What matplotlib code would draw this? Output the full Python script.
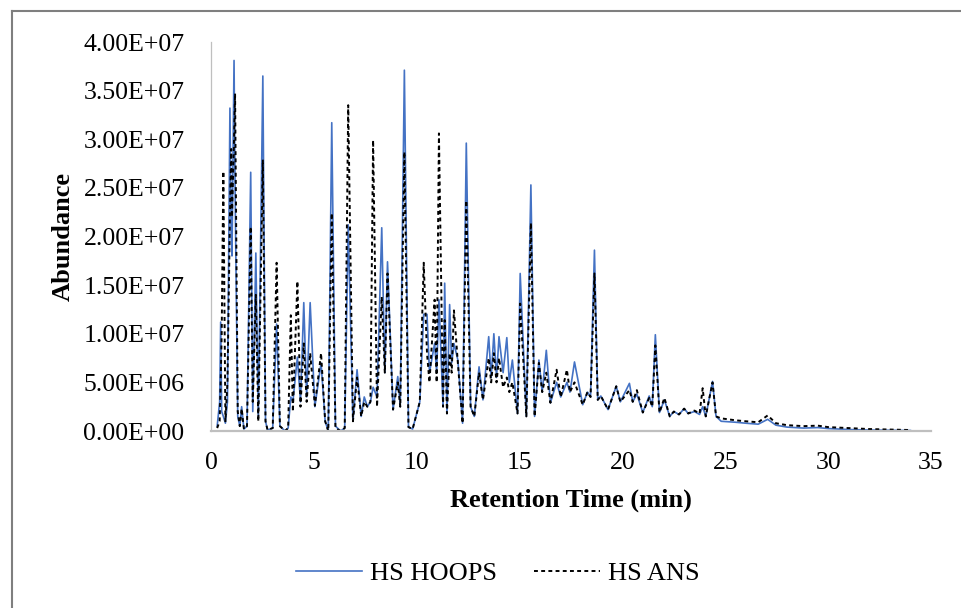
import numpy as np
import matplotlib
matplotlib.use("Agg")
import matplotlib.pyplot as plt
from matplotlib.lines import Line2D
from matplotlib.ticker import FuncFormatter


# retention time (min) and abundance in millions
rt = [
    0.30, 0.42, 0.47, 0.52, 0.60, 0.70, 0.80, 0.92, 0.98, 1.02, 1.12, 1.17,
    1.30, 1.40, 1.49, 1.60, 1.75, 1.93, 2.03, 2.18, 2.30, 2.52, 2.65, 2.75,
    3.00, 3.19, 3.35, 3.60, 3.75, 3.88, 3.98, 4.20, 4.35, 4.51, 4.65, 4.82,
    5.05, 5.35, 5.55, 5.70, 5.87, 6.05, 6.30, 6.50, 6.67, 6.90, 7.10, 7.30,
    7.45, 7.60, 7.75, 7.88, 8.07, 8.30, 8.45, 8.58, 8.85, 9.08, 9.20, 9.40,
    9.60, 9.80, 10.15, 10.34, 10.50, 10.62, 10.87, 10.97, 11.08, 11.28, 11.36, 11.47,
    11.60, 11.70, 11.81, 12.00, 12.23, 12.41, 12.62, 12.80, 13.03, 13.22, 13.50, 13.62,
    13.75, 13.88, 14.00, 14.20, 14.38, 14.50, 14.65, 14.90, 15.03, 15.33, 15.55, 15.73,
    15.94, 16.10, 16.30, 16.50, 16.80, 17.00, 17.30, 17.45, 17.67, 18.07, 18.30, 18.45,
    18.64, 18.80, 18.95, 19.30, 19.70, 19.90, 20.34, 20.50, 20.70, 20.99, 21.30, 21.45,
    21.60, 21.80, 22.04, 22.30, 22.50, 22.75, 23.00, 23.20, 23.50, 23.75, 23.90, 24.05,
    24.38, 24.55, 24.80, 25.50, 26.00, 26.60, 27.06, 27.46, 28.00, 28.80, 29.50, 30.00,
    31.00, 32.00, 33.00, 34.00,
]

hoops_m = [
    0.5, 3.0, 11.2, 2.0, 1.5, 0.8, 3.0, 33.2, 20.0, 18.0, 38.1, 25.0,
    1.5, 0.5, 2.5, 0.2, 0.5, 26.6, 2.0, 18.3, 1.5, 36.5, 1.0, 0.1,
    0.3, 11.0, 0.5, 0.0, 0.3, 3.5, 3.0, 7.6, 3.0, 13.2, 3.5, 13.2,
    2.5, 7.0, 1.0, 0.0, 31.7, 0.5, 0.0, 0.3, 21.2, 1.0, 6.3, 1.5,
    3.5, 2.5, 3.0, 4.5, 3.5, 20.9, 6.0, 17.4, 2.2, 5.6, 2.5, 37.1,
    0.4, 0.2, 3.0, 12.0, 12.0, 6.0, 9.0, 6.0, 13.5, 2.5, 15.2, 1.8,
    13.0, 7.0, 9.0, 7.3, 0.8, 29.6, 2.5, 1.5, 6.6, 3.2, 9.7, 5.5,
    10.0, 5.5, 9.7, 6.0, 9.6, 5.0, 7.3, 1.8, 16.2, 1.5, 25.3, 1.5,
    7.3, 4.0, 8.3, 2.9, 5.0, 3.5, 5.0, 4.0, 7.1, 2.7, 4.0, 3.5,
    18.6, 3.2, 3.6, 2.2, 4.6, 3.0, 4.9, 3.0, 3.8, 1.9, 3.6, 2.5,
    9.9, 1.9, 3.2, 1.5, 2.0, 1.7, 2.3, 1.8, 2.0, 1.7, 2.5, 1.5,
    5.1, 1.5, 1.0, 0.9, 0.8, 0.7, 1.2, 0.6, 0.4, 0.3, 0.35, 0.25,
    0.15, 0.1, 0.08, 0.05,
]

ans_m = [
    0.3, 1.0, 5.0, 10.0, 26.7, 1.0, 5.0, 22.0, 29.0, 22.0, 30.0, 34.7,
    2.0, 0.5, 2.3, 0.2, 0.5, 21.0, 3.0, 14.0, 1.0, 27.9, 1.0, 0.1,
    0.3, 17.3, 0.5, 0.0, 0.3, 11.9, 2.0, 15.4, 2.5, 9.0, 3.0, 8.0,
    2.6, 8.0, 1.0, 0.0, 22.4, 0.3, 0.0, 0.3, 33.5, 1.0, 5.5, 1.5,
    3.0, 2.5, 3.0, 29.9, 2.5, 13.8, 6.0, 16.2, 2.2, 5.0, 2.5, 28.7,
    0.4, 0.2, 3.0, 17.3, 8.0, 5.0, 13.5, 5.0, 30.6, 2.5, 11.4, 1.8,
    8.0, 6.0, 12.4, 7.0, 0.8, 23.7, 2.5, 1.5, 6.0, 3.2, 7.5, 5.0,
    8.0, 5.0, 7.5, 4.5, 5.5, 4.0, 5.0, 1.8, 13.1, 1.5, 21.4, 1.5,
    7.0, 4.0, 6.0, 2.9, 6.3, 3.5, 6.3, 4.0, 5.0, 2.7, 4.0, 3.5,
    16.2, 3.2, 3.6, 2.2, 4.6, 3.0, 4.2, 3.0, 4.2, 1.9, 3.4, 2.5,
    8.8, 1.9, 3.4, 1.5, 2.0, 1.7, 2.3, 1.8, 2.1, 1.8, 4.4, 1.5,
    5.0, 1.5, 1.3, 1.1, 1.0, 0.9, 1.6, 0.8, 0.6, 0.5, 0.55, 0.4,
    0.3, 0.2, 0.15, 0.1,
]

series_labels = ["HS HOOPS", "HS ANS"]
x_ticks = [0, 5, 10, 15, 20, 25, 30, 35]
y_ticks = [0, 5e6, 1e7, 1.5e7, 2e7, 2.5e7, 3e7, 3.5e7, 4e7]

BLUE = "#4472C4"
GREY = "#BFBFBF"

plt.rcParams["font.family"] = ["Liberation Serif", "DejaVu Serif"]

fig = plt.figure(figsize=(9.61, 6.08), dpi=100)
ax = fig.add_axes([211 / 961, 1 - 431 / 608, 720 / 961, 389 / 608])

ax.plot(rt, np.array(hoops_m) * 1e6, color=BLUE, lw=1.2, label=series_labels[0])
ax.plot(rt, np.array(ans_m) * 1e6, color="black", lw=1.4, dashes=(2.0, 1.7),
        label=series_labels[1])

ax.set_xlim(0, 35)
ax.set_ylim(0, 4e7)
ax.set_xticks(x_ticks)
ax.set_yticks(y_ticks)
ax.yaxis.set_major_formatter(FuncFormatter(lambda v, _: f"{v:.2E}"))
ax.tick_params(axis="both", length=0, labelsize=18.5)
ax.tick_params(axis="y", pad=19)
ax.tick_params(axis="x", pad=15)

for side in ("top", "right"):
    ax.spines[side].set_visible(False)
ax.spines["left"].set_color(GREY)
ax.spines["left"].set_linewidth(0.9)
ax.spines["bottom"].set_color(GREY)
ax.spines["bottom"].set_linewidth(1.6)

ax.set_xlabel("Retention Time (min)", fontsize=19, fontweight="bold", va="center")
ax.set_ylabel("Abundance", fontsize=19, fontweight="bold", va="center")
ax.xaxis.set_label_coords(0.5, -0.177)
ax.yaxis.set_label_coords(-0.205, 0.5)

fig.legend(loc="center", bbox_to_anchor=(497.5 / 961, 1 - 573 / 608),
           bbox_transform=fig.transFigure, ncol=2, frameon=False, fontsize=19,
           handlelength=2.5, handletextpad=0.3, columnspacing=1.4)

# chart area border (top and left edges only visible)
fig.add_artist(Line2D([12 / 961, 1.0], [1 - 11 / 608, 1 - 11 / 608],
                      transform=fig.transFigure, color="#7F7F7F", lw=1.5))
fig.add_artist(Line2D([12 / 961, 12 / 961], [0.0, 1 - 11 / 608],
                      transform=fig.transFigure, color="#7F7F7F", lw=1.5))

fig.savefig("out.png", dpi=100)
